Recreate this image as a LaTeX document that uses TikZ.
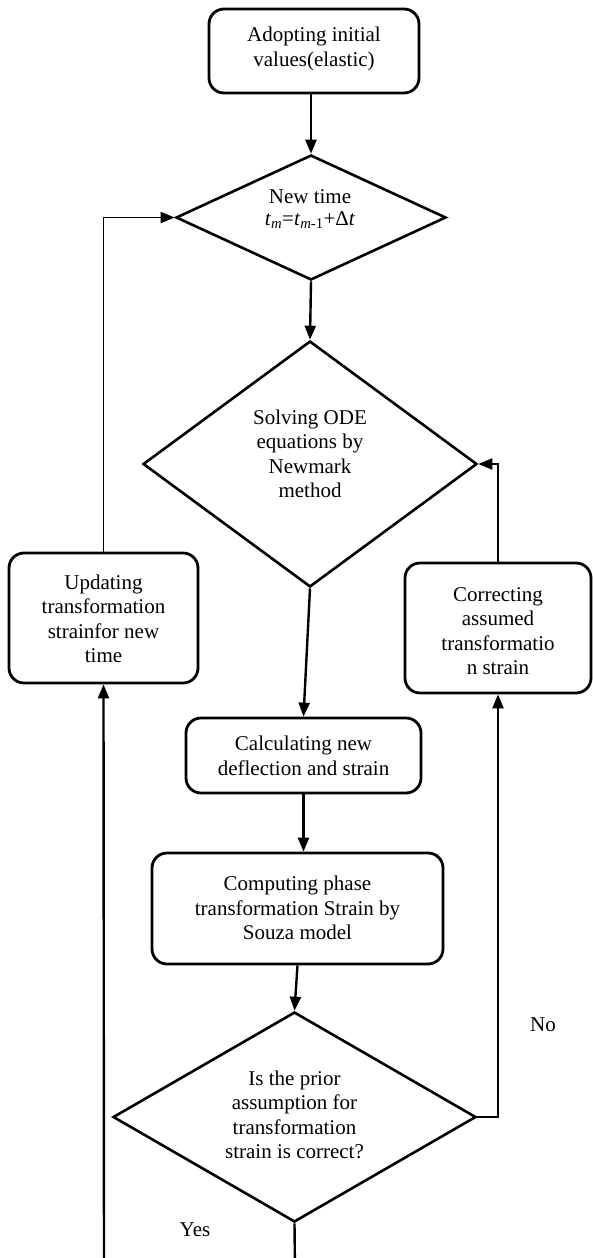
\documentclass[tikz,border=0pt]{standalone}
\usepackage{fontspec}
\setmainfont{Liberation Serif}
\usetikzlibrary{shapes.geometric,arrows.meta}
\begin{document}
\begin{tikzpicture}[x=1pt,y=-1pt,
  every node/.style={font=\fontsize{21}{24.5}\selectfont, align=center},
  rbox/.style={draw, line width=2.8pt, rounded corners=15pt, inner sep=0pt},
  dbox/.style={draw, diamond, line width=2.6pt, inner sep=0pt},
  plain/.style={inner sep=0pt},
  flow/.style={line width=2.4pt, -{Triangle[length=14pt,width=11pt]}},
  loopline/.style={line width=1.8pt, -{Triangle[length=14pt,width=11pt]}}
]
\useasboundingbox (0,0) rectangle (592,1258);
\fill[white] (0,0) rectangle (592,1258);

% nodes
\node[rbox, minimum width=210pt, minimum height=84pt] (start) at (314,51) {};
\node[plain] (starttxt) at (314,49) {Adopting initial\\values(elastic)};

\node[dbox, minimum width=270pt, minimum height=125pt] (d1) at (311,217.5) {};
\node[plain] (d1txt) at (310,209) {New time\\[-3pt]\textit{t}\textsubscript{\textit{m}}=\textit{t}\textsubscript{\textit{m}-1}+Δ\textit{t}};

\node[dbox, minimum width=334pt, minimum height=246pt] (d2) at (310,464) {};
\node[plain] (d2txt) at (310,454) {Solving ODE\\equations by\\Newmark\\method};

\node[rbox, minimum width=189pt, minimum height=130pt] (upd) at (103.5,618) {};
\node[plain] (updtxt) at (103.5,619) {Updating\\transformation\\strainfor new\\time};

\node[rbox, minimum width=186pt, minimum height=130pt] (corr) at (498,628) {};
\node[plain] (corrtxt) at (498,631) {Correcting\\assumed\\transformatio\\n strain};

\node[rbox, minimum width=235pt, minimum height=75pt] (calc) at (303.5,755.5) {};
\node[plain] (calctxt) at (303.5,756) {Calculating new\\deflection and strain};

\node[rbox, minimum width=291pt, minimum height=111pt] (comp) at (297.5,908.5) {};
\node[plain] (comptxt) at (297.5,908) {Computing phase\\transformation Strain by\\Souza model};

\node[dbox, minimum width=363pt, minimum height=210pt] (d3) at (294.5,1117) {};
\node[plain] (d3txt) at (294.5,1115) {Is the prior\\assumption for\\transformation\\strain is correct?};

\node[plain] (no) at (543,1025) {No};
\node[plain] (yes) at (195,1230) {Yes};

\coordinate (yb) at (295,1275);
\coordinate (yl) at (104,1275);

% connectors
\draw[flow] (start.south -| d1.north) -- (d1.north);
\draw[flow] (d1.south) -- (d2.north);
\draw[flow] (d2.south) -- (calc.north);
\draw[flow] (calc.south) -- (calc.south |- comp.north);
\draw[flow] (comp.south) -- (d3.north);
\draw[flow] (d3.east) -- (d3.east -| corr.south) -- (corr.south);
\draw[loopline] (corr.north) -- (corr.north |- d2.east) -- (d2.east);
\draw[flow] (d3.south) -- (yb) -- (yl) -- (upd.south);
\draw[loopline] (upd.north) -- (upd.north |- d1.west) -- (d1.west);
\end{tikzpicture}
\end{document}
